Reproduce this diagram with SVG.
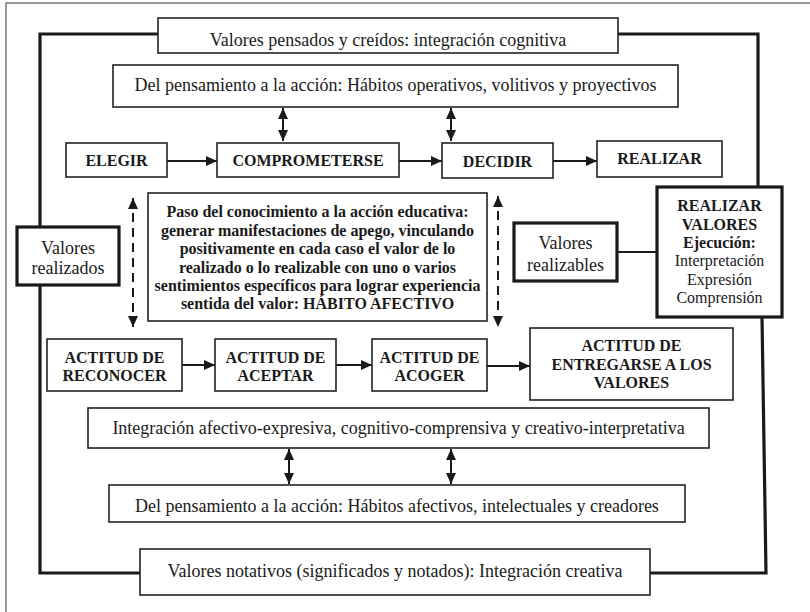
<svg xmlns="http://www.w3.org/2000/svg" width="810" height="612" viewBox="0 0 810 612">
<defs>
<style>
.bx{fill:#fff;stroke:#222;stroke-width:1.6}
.bxk{fill:#fff;stroke:#1a1a1a;stroke-width:3.2}
text{font-family:'Liberation Serif','DejaVu Serif',serif;fill:#1a1a1a;text-anchor:middle}
.t{font-size:18px}
.b{font-size:16px;font-weight:bold}
.s{font-size:16px}
.c{fill:none;stroke:#1a1a1a;stroke-width:2}
.loop{fill:none;stroke:#1a1a1a;stroke-width:3.2}
.d{fill:none;stroke:#1a1a1a;stroke-width:2;stroke-dasharray:9 6}
</style>
<marker id="ah" markerUnits="userSpaceOnUse" markerWidth="12" markerHeight="10" refX="11" refY="5" orient="auto-start-reverse">
<path d="M0,0 L11,5 L0,10 z" fill="#1a1a1a"/>
</marker>
</defs>
<rect x="6" y="3" width="830" height="640" fill="#fff" stroke="#555" stroke-width="1.2"/>

<g id="connectors">
<polyline class="loop" points="158,34 40,34 40,573 140,573"/>
<polyline class="loop" points="618,34 758,34 758,187"/>
<polyline class="loop" points="762,317 766,573 650,573"/>
<line class="c" x1="283" y1="108" x2="283" y2="141" marker-start="url(#ah)" marker-end="url(#ah)"/>
<line class="c" x1="451" y1="108" x2="451" y2="141" marker-start="url(#ah)" marker-end="url(#ah)"/>
<line class="c" x1="167" y1="161" x2="217" y2="161" marker-end="url(#ah)"/>
<line class="c" x1="399" y1="161" x2="442" y2="161" marker-end="url(#ah)"/>
<line class="c" x1="553" y1="161" x2="597" y2="161" marker-end="url(#ah)"/>
<line class="d" x1="133" y1="198" x2="133" y2="327" marker-start="url(#ah)" marker-end="url(#ah)"/>
<line class="d" x1="498" y1="196" x2="498" y2="327" marker-start="url(#ah)" marker-end="url(#ah)"/>
<line class="c" x1="617" y1="252" x2="657" y2="252"/>
<line class="c" x1="182" y1="365" x2="215" y2="365" marker-end="url(#ah)"/>
<line class="c" x1="336" y1="365" x2="372" y2="365" marker-end="url(#ah)"/>
<line class="c" x1="487" y1="366" x2="530" y2="366" marker-end="url(#ah)"/>
<line class="c" x1="289" y1="449" x2="289" y2="484" marker-start="url(#ah)" marker-end="url(#ah)"/>
<line class="c" x1="451" y1="449" x2="451" y2="484" marker-start="url(#ah)" marker-end="url(#ah)"/>
</g>

<g id="n-pensados">
<rect class="bx" x="158" y="18" width="460" height="35"/>
<text class="t" x="388" y="46">Valores pensados y creídos: integración cognitiva</text>
</g>
<g id="n-habitos-op">
<rect class="bx" x="113" y="65" width="565" height="42"/>
<text class="t" x="395.5" y="91">Del pensamiento a la acción: Hábitos operativos, volitivos y proyectivos</text>
</g>
<g id="n-elegir">
<rect class="bx" x="66" y="143" width="101" height="34"/>
<text class="b" x="116.5" y="166">ELEGIR</text>
</g>
<g id="n-comprometerse">
<rect class="bx" x="217" y="143" width="182" height="34"/>
<text class="b" x="308" y="166">COMPROMETERSE</text>
</g>
<g id="n-decidir">
<rect class="bx" x="442" y="143" width="111" height="35"/>
<text class="b" x="497.5" y="167">DECIDIR</text>
</g>
<g id="n-realizar">
<rect class="bx" x="597" y="141" width="125" height="36"/>
<text class="b" x="659.5" y="164">REALIZAR</text>
</g>
<g id="n-paso">
<rect class="bx" x="148" y="193" width="339" height="128"/>
<text class="b" x="317.5" y="217">Paso del conocimiento a la acción educativa:</text>
<text class="b" x="317.5" y="235.5">generar manifestaciones de apego, vinculando</text>
<text class="b" x="317.5" y="254">positivamente en cada caso el valor de lo</text>
<text class="b" x="317.5" y="272.5">realizado o lo realizable con uno o varios</text>
<text class="b" x="317.5" y="291">sentimientos específicos para lograr experiencia</text>
<text class="b" x="317.5" y="309">sentida del valor: HÁBITO AFECTIVO</text>
</g>
<g id="n-realizados">
<rect class="bxk" x="17" y="227" width="102" height="58"/>
<text class="t" x="68" y="254">Valores</text>
<text class="t" x="68" y="274">realizados</text>
</g>
<g id="n-realizables">
<rect class="bxk" x="514" y="223" width="103" height="58"/>
<text class="t" x="565.5" y="249">Valores</text>
<text class="t" x="565.5" y="271">realizables</text>
</g>
<g id="n-realizar-valores">
<rect class="bxk" x="657" y="187" width="125" height="130"/>
<text class="b" x="719.5" y="211">REALIZAR</text>
<text class="b" x="719.5" y="230">VALORES</text>
<text class="b" x="719.5" y="248">Ejecución:</text>
<text class="s" x="719.5" y="266">Interpretación</text>
<text class="s" x="719.5" y="285">Expresión</text>
<text class="s" x="719.5" y="303">Comprensión</text>
</g>
<g id="n-reconocer">
<rect class="bx" x="47" y="339" width="135" height="52"/>
<text class="b" x="114.5" y="363">ACTITUD DE</text>
<text class="b" x="114.5" y="381">RECONOCER</text>
</g>
<g id="n-aceptar">
<rect class="bx" x="215" y="339" width="121" height="52"/>
<text class="b" x="275.5" y="363">ACTITUD DE</text>
<text class="b" x="275.5" y="381">ACEPTAR</text>
</g>
<g id="n-acoger">
<rect class="bx" x="372" y="339" width="115" height="52"/>
<text class="b" x="429.5" y="363">ACTITUD DE</text>
<text class="b" x="429.5" y="381">ACOGER</text>
</g>
<g id="n-entregarse">
<rect class="bx" x="530" y="328" width="203" height="72"/>
<text class="b" x="631.5" y="351">ACTITUD DE</text>
<text class="b" x="631.5" y="370">ENTREGARSE A LOS</text>
<text class="b" x="631.5" y="388">VALORES</text>
</g>
<g id="n-integracion">
<rect class="bx" x="88" y="408" width="621" height="40"/>
<text class="t" x="398.5" y="434">Integración afectivo-expresiva, cognitivo-comprensiva y creativo-interpretativa</text>
</g>
<g id="n-habitos-af">
<rect class="bx" x="109" y="485" width="576" height="37"/>
<text class="t" x="397" y="512">Del pensamiento a la acción: Hábitos afectivos, intelectuales y creadores</text>
</g>
<g id="n-notativos">
<rect class="bx" x="140" y="549" width="510" height="46"/>
<text class="t" x="395" y="577">Valores notativos (significados y notados): Integración creativa</text>
</g>
</svg>
